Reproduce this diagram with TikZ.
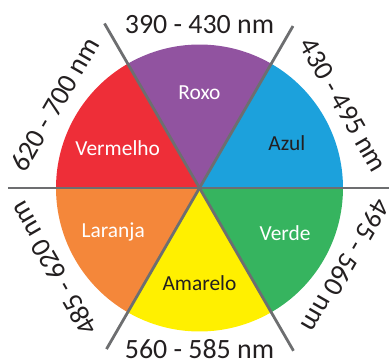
\documentclass[tikz,border=0pt]{standalone}
\usepackage{fontspec}
\setmainfont{Carlito}
\usepackage{xcolor}
\definecolor{roxo}{RGB}{145,83,160}
\definecolor{azul}{RGB}{28,161,220}
\definecolor{verde}{RGB}{54,180,95}
\definecolor{amarelo}{RGB}{255,240,0}
\definecolor{laranja}{RGB}{244,135,58}
\definecolor{vermelho}{RGB}{238,46,56}
\definecolor{linegray}{RGB}{109,110,112}
\definecolor{textdark}{RGB}{35,31,32}

\begin{document}
\begin{tikzpicture}[
      x=1bp, y=1bp,
      divider/.style={draw=linegray, line width=2.8bp},
      band/.style={font=\fontsize{28}{31}\selectfont, text=textdark, inner sep=0pt},
      hue/.style={font=\fontsize{21.5}{24}\selectfont, inner sep=0pt, text depth=0pt}]
    \useasboundingbox (-199.5,-171) rectangle (189.5,188);
    % colour sectors
    \foreach \a/\c in {60/roxo, 0/azul, -60/verde, -120/amarelo, 180/laranja, 120/vermelho}{
      \fill[\c] (0,0) -- (\a:143.5) arc[start angle=\a, delta angle=60, radius=143.5] -- cycle;
    }
    % dividers
    \draw[divider] (-191.5,0) -- (190,0);
    \draw[divider] (120:190) -- (-60:188);
    \draw[divider] (60:187) -- (240:186);
    % colour names
    \node[hue, text=white]    (roxo)     at (90:95)   {Roxo};
    \node[hue, text=textdark] (azul)     at (27:98)   {Azul};
    \node[hue, text=white]    (verde)    at (-28:97)  {Verde};
    \node[hue, text=textdark] (amarelo)  at (-90:95)  {Amarelo};
    \node[hue, text=white]    (laranja)  at (206:96)  {Laranja};
    \node[hue, text=white]    (vermelho) at (154:91)  {Vermelho};
    % wavelengths
    \node[band]             (roxonm)     at (90:163)  {390 - 430 nm};
    \node[band, rotate=-60] (azulnm)     at (30:166)  {430 - 495 nm};
    \node[band, rotate=240] (verdenm)    at (-28:166) {495 - 560 nm};
    \node[band]             (amarelonm)  at (-90:161) {560 - 585 nm};
    \node[band, rotate=120] (laranjanm)  at (209:167) {485 - 620 nm};
    \node[band, rotate=60]  (vermelhonm) at (150:167) {620 - 700 nm};
  \end{tikzpicture}
\end{document}
